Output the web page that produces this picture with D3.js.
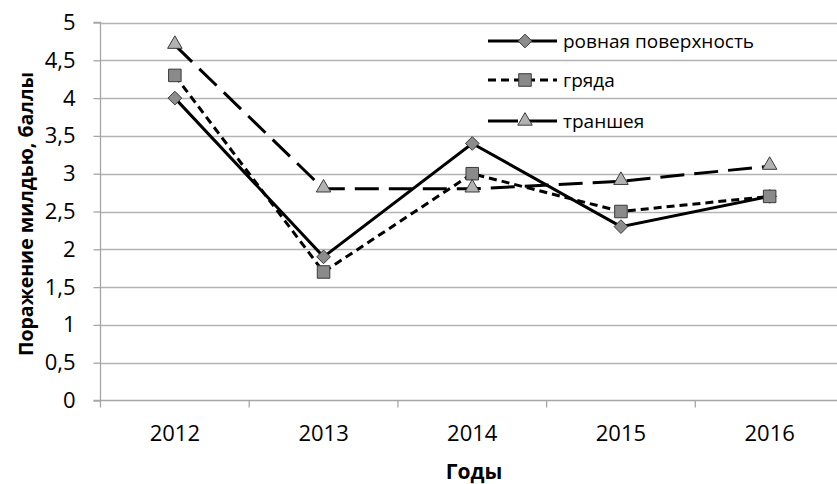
<!DOCTYPE html>
<html>
<head>
<meta charset="utf-8">
<script src="https://cdn.jsdelivr.net/npm/d3@7"></script>
<style>
  body { margin: 0; background: #fff; }
  svg text { font-family: "Open Sans", sans-serif; fill: #000; }
</style>
</head>
<body>
<div id="chart"></div>
<script>
// years and values
var years = ['2012', '2013', '2014', '2015', '2016'];
var flat = [4.0, 1.9, 3.4, 2.3, 2.7];     // ровная поверхность
var ridge = [4.3, 1.7, 3.0, 2.5, 2.7];    // гряда
var trench = [4.7, 2.8, 2.8, 2.9, 3.1];   // траншея
var yTicks = [0, 0.5, 1, 1.5, 2, 2.5, 3, 3.5, 4, 4.5, 5];

var series = [
  {name: 'ровная поверхность', values: flat, dash: null, marker: 'diamond', fill: '#8c8c8c'},
  {name: 'гряда', values: ridge, dash: '8,5', marker: 'square', fill: '#8a8a8a'},
  {name: 'траншея', values: trench, dash: '24,10', marker: 'triangle', fill: '#b2b2b2'}
];

var width = 837, height = 484;
var svg = d3.select('#chart').append('svg')
    .attr('width', width)
    .attr('height', height);

// plot area runs past the right edge, as in the original
var x = d3.scaleBand().domain(years).range([100.5, 844]);
var y = d3.scaleLinear().domain([0, 5]).range([400.5, 22.5]);

// grid lines
svg.append('g').selectAll('line')
    .data(yTicks.slice(1)).enter()
    .append('line')
      .attr('x1', 100.5).attr('x2', 844)
      .attr('y1', function(d) { return Math.round(y(d)) + 0.5; })
      .attr('y2', function(d) { return Math.round(y(d)) + 0.5; })
      .attr('stroke', '#b3b3b3')
      .attr('stroke-width', 1.3);

var fmt = function(d) { return String(d).replace('.', ','); };

var yAxis = svg.append('g')
    .attr('transform', 'translate(100.5,0)')
    .call(d3.axisLeft(y).tickValues(yTicks).tickFormat(fmt).tickSize(7).tickPadding(18));
var xAxis = svg.append('g')
    .attr('transform', 'translate(0,400.5)')
    .call(d3.axisBottom(x).tickSize(7).tickPadding(18));

// category boundary ticks like Excel
xAxis.selectAll('.tick line').remove();
xAxis.selectAll('.bound')
    .data(years).enter()
    .append('line')
      .attr('x1', function(d) { return x(d); })
      .attr('x2', function(d) { return x(d); })
      .attr('y1', 0).attr('y2', 7);

[yAxis, xAxis].forEach(function(a) {
  a.select('.domain').attr('stroke', '#a6a6a6').attr('stroke-width', 1.3);
  a.selectAll('line').attr('stroke', '#a6a6a6').attr('stroke-width', 1.3);
  a.selectAll('text').attr('font-size', 22).attr('font-family', '"Open Sans", sans-serif').attr('fill', '#222');
});
yAxis.select('.domain').attr('d', 'M-7,400.5H0V22.5H-7');
xAxis.select('.domain').attr('d', 'M100.5,0H844');

// axis titles
svg.append('text')
    .attr('transform', 'translate(33,214) rotate(-90)')
    .attr('text-anchor', 'middle')
    .attr('font-size', 19.5)
    .attr('font-weight', 'bold')
    .text('Поражение милдью, баллы');
svg.append('text')
    .attr('x', 474).attr('y', 479)
    .attr('text-anchor', 'middle')
    .attr('font-size', 21)
    .attr('font-weight', 'bold')
    .text('Годы');

var symbols = {
  diamond: d3.symbol().type(d3.symbolDiamond2).size(120),
  square: d3.symbol().type(d3.symbolSquare2).size(200),
  triangle: d3.symbol().type(d3.symbolTriangle2).size(150)
};

var line = d3.line()
    .x(function(d, i) { return x(years[i]) + x.bandwidth() / 2; })
    .y(function(d) { return y(d); });

series.forEach(function(s) {
  var g = svg.append('g');
  g.append('path')
      .attr('d', line(s.values))
      .attr('fill', 'none')
      .attr('stroke', '#000')
      .attr('stroke-width', 3)
      .attr('stroke-dasharray', s.dash);
  g.selectAll('path.m')
      .data(s.values).enter()
      .append('path')
        .attr('class', 'm')
        .attr('d', symbols[s.marker])
        .attr('transform', function(d, i) {
          var dy = s.marker === 'triangle' ? -1 : 0;
          return 'translate(' + (x(years[i]) + x.bandwidth() / 2) + ',' + (y(d) + dy) + ')';
        })
        .attr('fill', s.fill)
        .attr('stroke', '#3a3a3a')
        .attr('stroke-width', 1);
});

// legend
var legend = svg.append('g').selectAll('g')
    .data(series).enter()
    .append('g')
      .attr('transform', function(d, i) { return 'translate(488,' + [41, 80, 121][i] + ')'; });
legend.append('line')
    .attr('x1', 0).attr('x2', 69)
    .attr('stroke', '#000')
    .attr('stroke-width', 3)
    .attr('stroke-dasharray', function(d) { return d.marker === 'triangle' ? '30,8,40' : d.dash; });
legend.append('path')
    .attr('d', function(d) { return symbols[d.marker](); })
    .attr('transform', 'translate(37,0)')
    .attr('fill', function(d) { return d.fill; })
    .attr('stroke', '#3a3a3a')
    .attr('stroke-width', 1);
legend.append('text')
    .attr('x', 75).attr('dy', '0.35em')
    .attr('font-size', 19)
    .attr('fill', '#222')
    .text(function(d) { return d.name; });
</script>
</body>
</html>
